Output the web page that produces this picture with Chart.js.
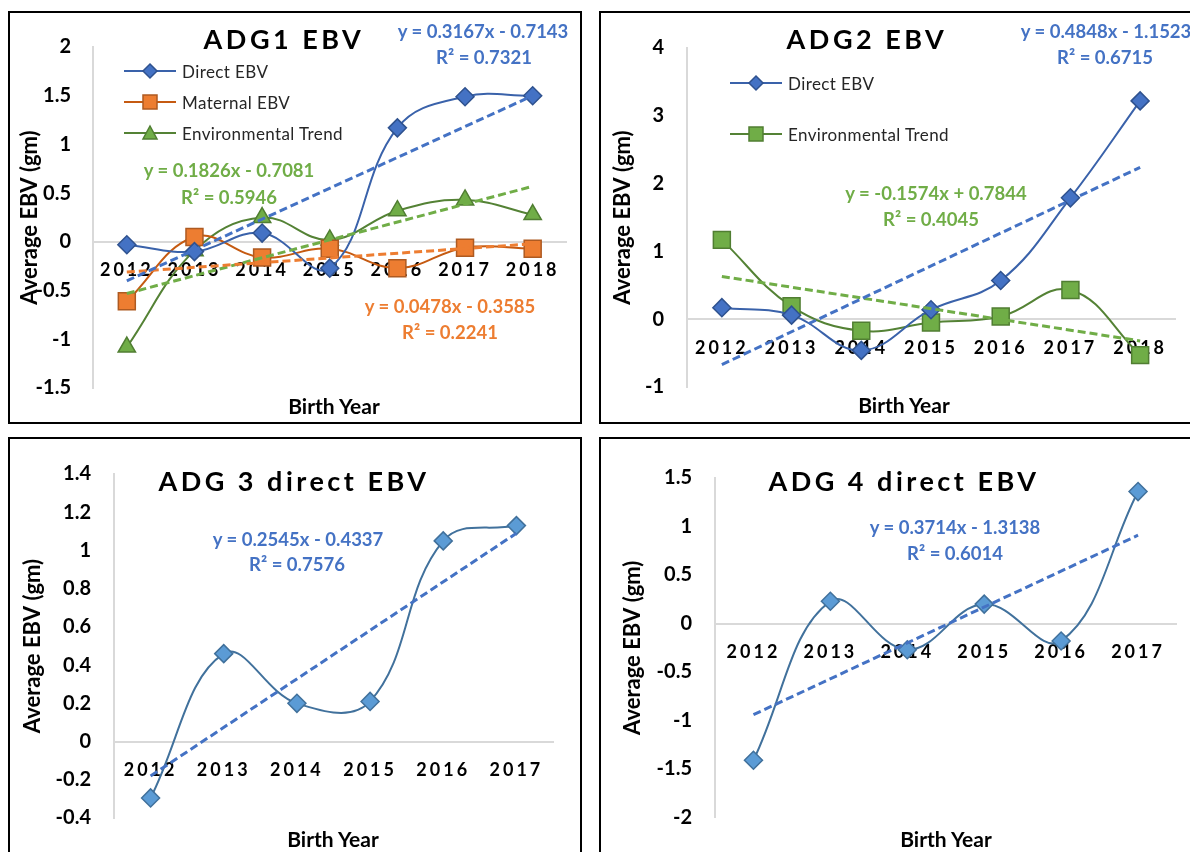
<!DOCTYPE html>
<html>
<head>
<meta charset="utf-8">
<title>ADG EBV trends</title>
<script src="https://cdn.jsdelivr.net/npm/chart.js@4.4.1/dist/chart.umd.min.js"></script>
<style>
  html, body { margin: 0; padding: 0; background: #fff; }
  body { width: 1190px; height: 852px; position: relative; overflow: hidden; font-family: Lato, 'Open Sans', sans-serif; }
  .panel { position: absolute; border: 2px solid #000; overflow: hidden; }
  .panel canvas { position: absolute; left: 0; top: 0; }
  .t { position: absolute; white-space: nowrap; transform: translate(-50%, -50%); font-weight: 700; line-height: 1; }
  .title { font-size: 27px; letter-spacing: 3.5px; color: #000; }
  .eq { font-size: 18.5px; }
  .xt { font-size: 21px; color: #000; }
  .blue { color: #4472C4; }
  .green { color: #70AD47; }
  .orange { color: #ED7D31; }
  .leg { position: absolute; height: 20px; display: flex; align-items: center; font-size: 17px; letter-spacing: 0.4px; color: #262626; white-space: nowrap; }
  .leg svg { margin-right: 6px; }
</style>
</head>
<body>

<div class="panel" style="left:8px;top:11px;width:570px;height:409px"><canvas id="c1" width="570" height="409"></canvas></div>
<div class="panel" style="left:599px;top:11px;width:600px;height:409px"><canvas id="c2" width="600" height="409"></canvas></div>
<div class="panel" style="left:8px;top:437px;width:570px;height:420px"><canvas id="c3" width="570" height="420"></canvas></div>
<div class="panel" style="left:599px;top:437px;width:600px;height:420px"><canvas id="c4" width="600" height="420"></canvas></div>

<!-- titles -->
<div class="t title" style="left:284px;top:38px">ADG1 EBV</div>
<div class="t title" style="left:867px;top:38px">ADG2 EBV</div>
<div class="t title" style="left:294px;top:480px">ADG 3 direct EBV</div>
<div class="t title" style="left:904px;top:480px">ADG 4 direct EBV</div>

<!-- x axis titles -->
<div class="t xt" style="left:334px;top:405px">Birth Year</div>
<div class="t xt" style="left:904px;top:404px">Birth Year</div>
<div class="t xt" style="left:333px;top:838px">Birth Year</div>
<div class="t xt" style="left:946px;top:838px">Birth Year</div>

<!-- trend equations -->
<div class="t eq blue" style="left:483px;top:31px">y = 0.3167x - 0.7143</div>
<div class="t eq blue" style="left:484px;top:57px">R² = 0.7321</div>
<div class="t eq green" style="left:229px;top:170px">y = 0.1826x - 0.7081</div>
<div class="t eq green" style="left:229px;top:197px">R² = 0.5946</div>
<div class="t eq orange" style="left:450px;top:306px">y = 0.0478x - 0.3585</div>
<div class="t eq orange" style="left:450px;top:332px">R² = 0.2241</div>

<div class="t eq blue" style="left:1106px;top:31px">y = 0.4848x - 1.1523</div>
<div class="t eq blue" style="left:1105px;top:57px">R² = 0.6715</div>
<div class="t eq green" style="left:936px;top:193px">y = -0.1574x + 0.7844</div>
<div class="t eq green" style="left:931px;top:219px">R² = 0.4045</div>

<div class="t eq blue" style="left:298px;top:539px">y = 0.2545x - 0.4337</div>
<div class="t eq blue" style="left:297px;top:564px">R² = 0.7576</div>

<div class="t eq blue" style="left:955px;top:527px">y = 0.3714x - 1.3138</div>
<div class="t eq blue" style="left:955px;top:553px">R² = 0.6014</div>

<!-- legends -->
<div class="leg" style="left:124px;top:61px">
  <svg width="52" height="20"><line x1="0" y1="10" x2="52" y2="10" stroke="#3A62AA" stroke-width="2"/><polygon points="26,3 33,10 26,17 19,10" fill="#4472C4" stroke="#2F528F" stroke-width="1.5"/></svg>Direct EBV
</div>
<div class="leg" style="left:124px;top:92px">
  <svg width="52" height="20"><line x1="0" y1="10" x2="52" y2="10" stroke="#C55A11" stroke-width="2"/><rect x="19" y="3" width="14" height="14" fill="#ED7D31" stroke="#AE5A21" stroke-width="1.5"/></svg>Maternal EBV
</div>
<div class="leg" style="left:124px;top:123px">
  <svg width="52" height="20"><line x1="0" y1="10" x2="52" y2="10" stroke="#548235" stroke-width="2"/><polygon points="26,3 33,16 19,16" fill="#70AD47" stroke="#507E32" stroke-width="1.5"/></svg>Environmental Trend
</div>

<div class="leg" style="left:730px;top:73px">
  <svg width="52" height="20"><line x1="0" y1="10" x2="52" y2="10" stroke="#3A62AA" stroke-width="2"/><polygon points="26,3 33,10 26,17 19,10" fill="#4472C4" stroke="#2F528F" stroke-width="1.5"/></svg>Direct EBV
</div>
<div class="leg" style="left:730px;top:124px">
  <svg width="52" height="20"><line x1="0" y1="10" x2="52" y2="10" stroke="#548235" stroke-width="2"/><rect x="19" y="3" width="14" height="14" fill="#70AD47" stroke="#507E32" stroke-width="1.5"/></svg>Environmental Trend
</div>

<script>
// categories
const years7 = ['2012', '2013', '2014', '2015', '2016', '2017', '2018'];
const years6 = ['2012', '2013', '2014', '2015', '2016', '2017'];

// ADG1
const adg1Direct = [-0.03, -0.10, 0.09, -0.27, 1.17, 1.49, 1.50];
const adg1Maternal = [-0.61, 0.05, -0.16, -0.07, -0.27, -0.06, -0.07];
const adg1Env = [-1.08, -0.09, 0.25, 0.02, 0.32, 0.43, 0.28];
const adg1DirectFit = [-0.40, 1.50];   // trend line at first / last year
const adg1MaternalFit = [-0.31, -0.02];
const adg1EnvFit = [-0.53, 0.57];
const adg1Axis = [-1.5, 2, 0.5];       // min, max, step

// ADG2
const adg2Direct = [0.17, 0.06, -0.46, 0.14, 0.57, 1.79, 3.22];
const adg2Env = [1.17, 0.19, -0.17, -0.05, 0.04, 0.43, -0.53];
const adg2DirectFit = [-0.67, 2.24];
const adg2EnvFit = [0.63, -0.32];
const adg2Axis = [-1, 4, 1];

// ADG3
const adg3Direct = [-0.295, 0.46, 0.20, 0.21, 1.05, 1.13];
const adg3DirectFit = [-0.18, 1.09];
const adg3Axis = [-0.4, 1.4, 0.2];

// ADG4
const adg4Direct = [-1.41, 0.23, -0.27, 0.20, -0.18, 1.36];
const adg4DirectFit = [-0.94, 0.91];
const adg4Axis = [-2, 1.5, 0.5];

const FONT = 'Lato, "Open Sans", sans-serif';

const DIRECT = { line: '#3A62AA', fill: '#4472C4', edge: '#2F528F', shape: 'rectRot', r: 9 };
const MATERNAL = { line: '#C55A11', fill: '#ED7D31', edge: '#AE5A21', shape: 'rect', r: 12 };
const ENV_TRI = { line: '#548235', fill: '#70AD47', edge: '#507E32', shape: 'triangle', r: 10 };
const ENV_SQ = { line: '#548235', fill: '#70AD47', edge: '#507E32', shape: 'rect', r: 12 };
const DIRECT_LIGHT = { line: '#41719C', fill: '#5B9BD5', edge: '#41719C', shape: 'rectRot', r: 9 };

// spaced-out year labels like the original
const CategoryScale = Chart.registry.getScale('category');
const baseDrawLabels = CategoryScale.prototype.drawLabels;
CategoryScale.prototype.drawLabels = function (area) {
  this.ctx.save();
  this.ctx.letterSpacing = '3px';
  baseDrawLabels.call(this, area);
  this.ctx.restore();
};

// 2 -> "2", 0.5 -> "0.5", -0 -> "0"
const tickText = v => String(Math.round(v * 100) / 100 + 0);

function drawPanel(id, labels, series, fits, axis, g) {
  const datasets = [];
  fits.forEach(f => {
    datasets.push({
      data: [{ x: labels[0], y: f.values[0] }, { x: labels[labels.length - 1], y: f.values[1] }],
      borderColor: f.color,
      borderWidth: 3,
      borderDash: [8, 4],
      pointRadius: 0,
      tension: 0,
      order: 0,
    });
  });
  series.forEach(s => {
    datasets.push({
      data: s.values,
      borderColor: s.style.line,
      borderWidth: 2,
      tension: 0.4,
      pointStyle: s.style.shape,
      pointRadius: s.style.r,
      pointBackgroundColor: s.style.fill,
      pointBorderColor: s.style.edge,
      pointBorderWidth: 1.5,
      order: 1,
    });
  });

  return new Chart(document.getElementById(id), {
    type: 'line',
    data: { labels, datasets },
    options: {
      responsive: false,
      animation: false,
      layout: { padding: { top: g.top, right: g.right, bottom: g.bottom, left: 0 } },
      plugins: { legend: { display: false }, tooltip: { enabled: false } },
      scales: {
        x: {
          type: 'category',
          position: { y: 0 },
          offset: true,
          grid: { display: false, drawTicks: false },
          border: { color: '#D9D9D9', width: 2 },
          ticks: {
            color: '#000',
            font: { family: FONT, size: 18, weight: 'bold' },
            padding: 18,
            maxRotation: 0,
            autoSkip: false,
          },
        },
        y: {
          min: axis[0],
          max: axis[1],
          grid: { display: false, drawTicks: false },
          border: { color: '#D9D9D9', width: 2 },
          ticks: {
            stepSize: axis[2],
            color: '#000',
            font: { family: FONT, size: 20, weight: 'bold' },
            padding: g.tickPad,
            callback: tickText,
          },
          title: {
            display: true,
            text: 'Average EBV (gm)',
            color: '#000',
            font: { family: FONT, size: 22, weight: 'bold', lineHeight: 1 },
            padding: { top: g.titleOff, bottom: 0 },
          },
          afterFit: s => { s.width = g.left; },
        },
      },
    },
  });
}

drawPanel('c1', years7,
  [{ values: adg1Direct, style: DIRECT }, { values: adg1Maternal, style: MATERNAL }, { values: adg1Env, style: ENV_TRI }],
  [{ values: adg1DirectFit, color: '#4472C4' }, { values: adg1MaternalFit, color: '#ED7D31' }, { values: adg1EnvFit, color: '#70AD47' }],
  adg1Axis, { left: 83, top: 15, right: 5, bottom: 18, tickPad: 22, titleOff: 9 });

drawPanel('c2', years7,
  [{ values: adg2Direct, style: DIRECT }, { values: adg2Env, style: ENV_SQ }],
  [{ values: adg2DirectFit, color: '#4472C4' }, { values: adg2EnvFit, color: '#70AD47' }],
  adg2Axis, { left: 86, top: 26, right: 26, bottom: 26, tickPad: 23, titleOff: 11 });

drawPanel('c3', years6,
  [{ values: adg3Direct, style: DIRECT_LIGHT }],
  [{ values: adg3DirectFit, color: '#4472C4' }],
  adg3Axis, { left: 104, top: 32, right: 27, bottom: 41, tickPad: 23, titleOff: 12 });

drawPanel('c4', years6,
  [{ values: adg4Direct, style: DIRECT_LIGHT }],
  [{ values: adg4DirectFit, color: '#4472C4' }],
  adg4Axis, { left: 114, top: 39, right: 24.5, bottom: 41.5, tickPad: 23, titleOff: 21 });
</script>
</body>
</html>
